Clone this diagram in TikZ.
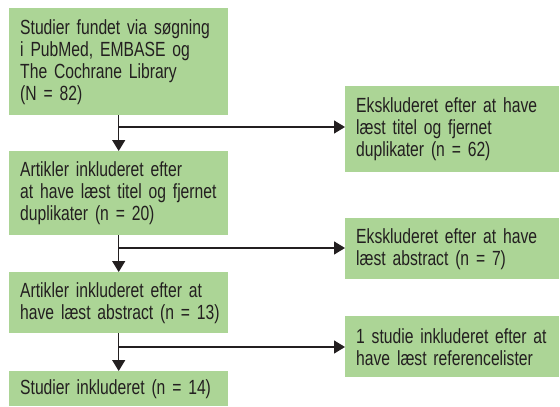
\documentclass[tikz,border=0pt]{standalone}
\usepackage{fontspec}
\setmainfont[FakeStretch=0.765]{Liberation Sans}
\usetikzlibrary{arrows.meta}
\definecolor{boxgreen}{RGB}{172,213,150}
\definecolor{ink}{RGB}{35,31,32}
\newcommand\rowtxt[1]{\mbox{#1}}
\begin{document}
\begin{tikzpicture}[x=1pt,y=-1pt,
  box/.style={fill=boxgreen, draw=none, anchor=north west, inner xsep=11pt, inner ysep=0pt,
    align=left, text=ink, font=\fontsize{20.5}{22}\selectfont},
  lbox/.style={box, text width=197pt},
  rbox/.style={box, text width=192pt},
  conn/.style={draw=ink, line width=1.3pt, -{Triangle[length=11pt,width=13pt]}}]
\useasboundingbox (0,0) rectangle (560,407);
\node[lbox, minimum height=107pt] (b1) at (9,8) {\rowtxt{Studier fundet via søgning}\\\rowtxt{i PubMed, EMBASE og}\\\rowtxt{The Cochrane Library}\\\rowtxt{(N = 82)}};
\node[rbox, minimum height=86pt] (r1) at (345,86) {\rowtxt{Ekskluderet efter at have}\\\rowtxt{læst titel og fjernet}\\\rowtxt{duplikater (n = 62)}};
\node[lbox, minimum height=84pt] (b2) at (9,151) {\rowtxt{Artikler inkluderet efter}\\\rowtxt{at have læst titel og fjernet}\\\rowtxt{duplikater (n = 20)}};
\node[rbox, minimum height=61pt] (r2) at (345,218) {\rowtxt{Ekskluderet efter at have}\\\rowtxt{læst abstract (n = 7)}};
\node[lbox, minimum height=61pt] (b3) at (9,272) {\rowtxt{Artikler inkluderet efter at}\\\rowtxt{have læst abstract (n = 13)}};
\node[rbox, minimum height=61pt] (r3) at (345,316) {\rowtxt{1 studie inkluderet efter at}\\\rowtxt{have læst referencelister}};
\node[lbox, minimum height=35pt] (b4) at (9,371) {\rowtxt{Studier inkluderet (n = 14)}};
\coordinate (k1) at (b1.south |- 0,127);
\coordinate (k2) at (b2.south |- 0,248);
\coordinate (k3) at (b3.south |- 0,347);
\draw[conn] (b1.south) -- (b2.north);
\draw[conn] (b2.south) -- (b3.north);
\draw[conn] (b3.south) -- (b4.north);
\draw[conn] (k1) -- (k1 -| r1.west);
\draw[conn] (k2) -- (k2 -| r2.west);
\draw[conn] (k3) -- (k3 -| r3.west);
\end{tikzpicture}
\end{document}
